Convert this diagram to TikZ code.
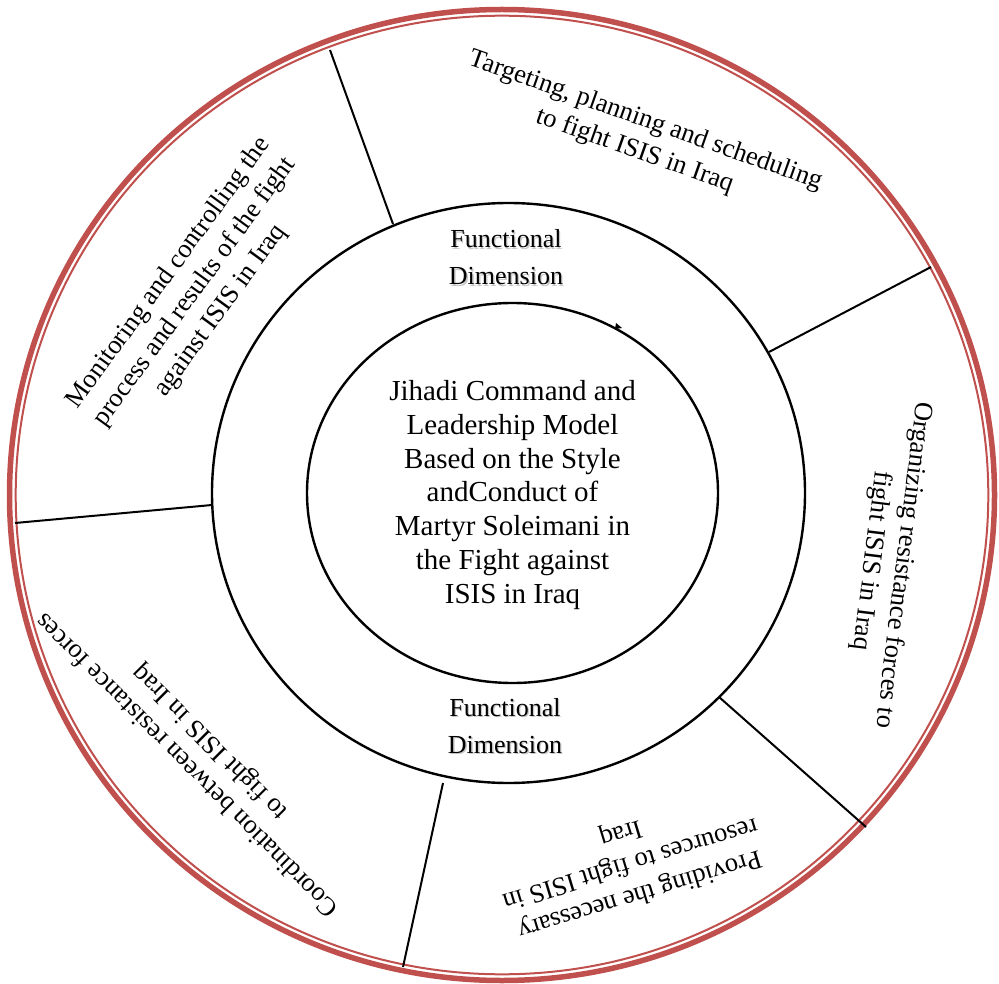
\documentclass[tikz,border=0pt]{standalone}
\usepackage{fontspec}
\setmainfont{Liberation Serif}
\definecolor{ringred}{RGB}{192,80,77}
\begin{document}
\begin{tikzpicture}[x=1pt,y=-1pt,
  ring/.style={draw=black, line width=2.4pt},
  divider/.style={draw=black, line width=2pt},
  centertext/.style={align=center, font=\fontsize{29}{33.7}\selectfont, inner sep=0pt},
  dimtext/.style={align=center, font=\fontsize{26}{37}\selectfont, inner sep=0pt},
  dimshadow/.style={dimtext, text=black!22},
  outertext/.style={align=center, font=\fontsize{26.5}{32}\selectfont, inner sep=0pt},
]
\useasboundingbox (0,0) rectangle (999,984);
% outer double red ring
\draw[ringred, line width=5.5pt] (502,495) ellipse [x radius=492.5pt, y radius=485.5pt];
\draw[ringred, line width=2pt] (502,495) ellipse [x radius=486.3pt, y radius=479.3pt];
% middle and inner rings
\draw[ring] (508.5,493) ellipse [x radius=296.5pt, y radius=290pt];
\draw[ring] (512.5,493) ellipse [x radius=205.5pt, y radius=190pt];
% tiny marks on inner ring
\fill (616,323) -- (622,328) -- (615,329) -- cycle;
\draw[line width=1pt] (403,333) -- (407,330);
% divider end points
\coordinate (d1o) at (330,50);  \coordinate (d1i) at (393,224);
\coordinate (d2o) at (931,267); \coordinate (d2i) at (769,352);
\coordinate (d3o) at (866,827); \coordinate (d3i) at (719,697);
\coordinate (d4o) at (403,967); \coordinate (d4i) at (443,783);
\coordinate (d5o) at (15,523);  \coordinate (d5i) at (212,505);
\draw[divider] (d1o) -- (d1i);
\draw[divider] (d2o) -- (d2i);
\draw[divider] (d3o) -- (d3i);
\draw[divider] (d4o) -- (d4i);
\draw[divider] (d5o) -- (d5i);
% centre text
\node[centertext] (core) at (512.5,495) {Jihadi Command and\\Leadership Model\\Based on the Style\\andConduct of\\Martyr Soleimani in\\the Fight against\\ISIS in Iraq};
% functional dimension labels with soft shadow
\node[dimshadow] (fdtops) at (507.3,258.8) {Functional\\Dimension};
\node[dimtext] (fdtop) at (506,257.5) {Functional\\Dimension};
\node[dimshadow] (fdbots) at (506.3,727.3) {Functional\\Dimension};
\node[dimtext] (fdbot) at (505,726) {Functional\\Dimension};
% outer segment texts
\node[outertext, rotate=-19.5] (seg1) at (640,136) {Targeting, planning and scheduling\\to fight ISIS in Iraq};
\node[outertext, rotate=-97] (seg2) at (887,563) {Organizing resistance forces to\\fight ISIS in Iraq};
\node[outertext, rotate=197] (seg3) at (630,863) {Providing the necessary\\resources to fight ISIS in\\Iraq};
\node[outertext, rotate=135] (seg4) at (199,753) {Coordination between resistance forces\\to fight ISIS in Iraq};
\node[outertext, rotate=54] (seg5) at (195,292) {Monitoring and controlling the\\process and results of the fight\\against ISIS in Iraq};
\end{tikzpicture}
\end{document}
